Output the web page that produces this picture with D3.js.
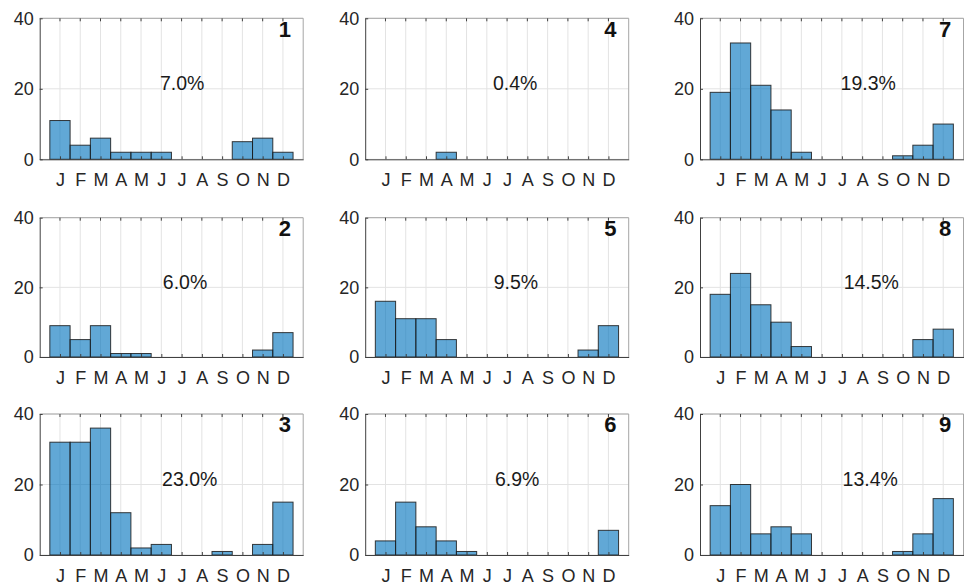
<!DOCTYPE html>
<html>
<head>
<meta charset="utf-8">
<script src="https://cdn.jsdelivr.net/npm/d3@7"></script>
<style>
  html, body { margin: 0; padding: 0; background: #fff; }
  svg { display: block; font-family: "Liberation Sans", Arial, Helvetica, sans-serif; }
</style>
</head>
<body>
<div id="chart"></div>
<script>
// Monthly counts per cluster, 3x3 small multiples (column-major: 1-3, 4-6, 7-9)
const months = ['J', 'F', 'M', 'A', 'M', 'J', 'J', 'A', 'S', 'O', 'N', 'D'];
const yTicks = [0, 20, 40];

const panelIds = [1, 2, 3, 4, 5, 6, 7, 8, 9];
const percents = ['7.0%', '6.0%', '23.0%', '0.4%', '9.5%', '6.9%', '19.3%', '14.5%', '13.4%'];

const counts1 = [11, 4, 6, 2, 2, 2, 0, 0, 0, 5, 6, 2];
const counts2 = [9, 5, 9, 1, 1, 0, 0, 0, 0, 0, 2, 7];
const counts3 = [32, 32, 36, 12, 2, 3, 0, 0, 1, 0, 3, 15];
const counts4 = [0, 0, 0, 2, 0, 0, 0, 0, 0, 0, 0, 0];
const counts5 = [16, 11, 11, 5, 0, 0, 0, 0, 0, 0, 2, 9];
const counts6 = [4, 15, 8, 4, 1, 0, 0, 0, 0, 0, 0, 7];
const counts7 = [19, 33, 21, 14, 2, 0, 0, 0, 0, 1, 4, 10];
const counts8 = [18, 24, 15, 10, 3, 0, 0, 0, 0, 0, 5, 8];
const counts9 = [14, 20, 6, 8, 6, 0, 0, 0, 0, 1, 6, 16];
const allCounts = [counts1, counts2, counts3, counts4, counts5, counts6, counts7, counts8, counts9];

// percent label centre, in month units
const pctX = [7.03, 7.17, 7.4, 7.4, 7.44, 7.5, 8.3, 8.45, 8.4];

const W = 966, H = 585;
const colLeft = [39.7, 365.2, 700];
const rowTop = [18.3, 217.7, 414];
const rowBottom = [159.3, 357, 555];
const panelW = 263.5;

const svg = d3.select('#chart').append('svg')
    .attr('width', W).attr('height', H);

const textColor = '#262626';

panelIds.forEach((id, i) => {
    const col = Math.floor(i / 3), row = i % 3;
    const x0 = colLeft[col], y0 = rowTop[row], y1 = rowBottom[row];
    const data = allCounts[i];

    const x = d3.scaleLinear().domain([0, 13]).range([x0, x0 + panelW]);
    const y = d3.scaleLinear().domain([0, 40]).range([y1, y0]);

    const g = svg.append('g');

    // grid
    g.append('g').selectAll('line.vg').data(d3.range(1, 13)).join('line')
        .attr('x1', d => x(d)).attr('x2', d => x(d))
        .attr('y1', y0).attr('y2', y1)
        .attr('stroke', '#e3e3e3').attr('stroke-width', 1);
    g.append('g').selectAll('line.hg').data(yTicks).join('line')
        .attr('x1', x0).attr('x2', x0 + panelW)
        .attr('y1', d => y(d)).attr('y2', d => y(d))
        .attr('stroke', '#e3e3e3').attr('stroke-width', 1);

    // bars
    g.append('g').selectAll('rect').data(data.map((v, k) => ({ m: k + 1, v })).filter(d => d.v > 0))
        .join('rect')
        .attr('x', d => x(d.m - 0.5))
        .attr('y', d => y(d.v))
        .attr('width', d => x(d.m + 0.5) - x(d.m - 0.5))
        .attr('height', d => y(0) - y(d.v))
        .attr('fill', '#0072BD').attr('fill-opacity', 0.62)
        .attr('stroke', '#1a1a1a').attr('stroke-opacity', 0.85).attr('stroke-width', 1);

    // box: top/right lighter
    g.append('line').attr('x1', x0).attr('x2', x0 + panelW).attr('y1', y0).attr('y2', y0)
        .attr('stroke', '#a6a6a6');
    g.append('line').attr('x1', x0 + panelW).attr('x2', x0 + panelW).attr('y1', y0).attr('y2', y1)
        .attr('stroke', '#a6a6a6');

    // axes
    const xAxis = d3.axisBottom(x).tickValues(d3.range(1, 13))
        .tickFormat(d => months[d - 1]).tickSizeInner(-3).tickSizeOuter(0).tickPadding(14);
    const gx = g.append('g').attr('transform', `translate(0,${y1})`).call(xAxis);
    gx.select('.domain').attr('stroke', '#404040');
    gx.selectAll('.tick line').attr('stroke', '#404040');
    gx.selectAll('.tick text').attr('fill', textColor).attr('font-size', 18)
        .attr('font-family', '"Liberation Sans", Arial, sans-serif');

    // top ticks
    g.append('g').selectAll('line').data(d3.range(1, 13)).join('line')
        .attr('x1', d => x(d)).attr('x2', d => x(d))
        .attr('y1', y0).attr('y2', y0 + 3)
        .attr('stroke', '#404040');

    const yAxis = d3.axisLeft(y).tickValues(yTicks).tickSizeInner(-3).tickSizeOuter(0).tickPadding(6);
    const gy = g.append('g').attr('transform', `translate(${x0},0)`).call(yAxis);
    gy.select('.domain').attr('stroke', '#404040');
    gy.selectAll('.tick line').attr('stroke', '#404040');
    gy.selectAll('.tick text').attr('fill', textColor).attr('font-size', 18)
        .attr('font-family', '"Liberation Sans", Arial, sans-serif');

    // panel number
    g.append('text')
        .attr('x', x(12.4)).attr('y', y(34.8))
        .attr('text-anchor', 'end')
        .attr('font-size', 22).attr('font-weight', 'bold')
        .attr('fill', '#111')
        .text(id);

    // percentage
    g.append('text')
        .attr('x', x(pctX[i])).attr('y', y(19.6))
        .attr('text-anchor', 'middle')
        .attr('font-size', 19.5)
        .attr('fill', '#1a1a1a')
        .text(percents[i]);
});
</script>
</body>
</html>
